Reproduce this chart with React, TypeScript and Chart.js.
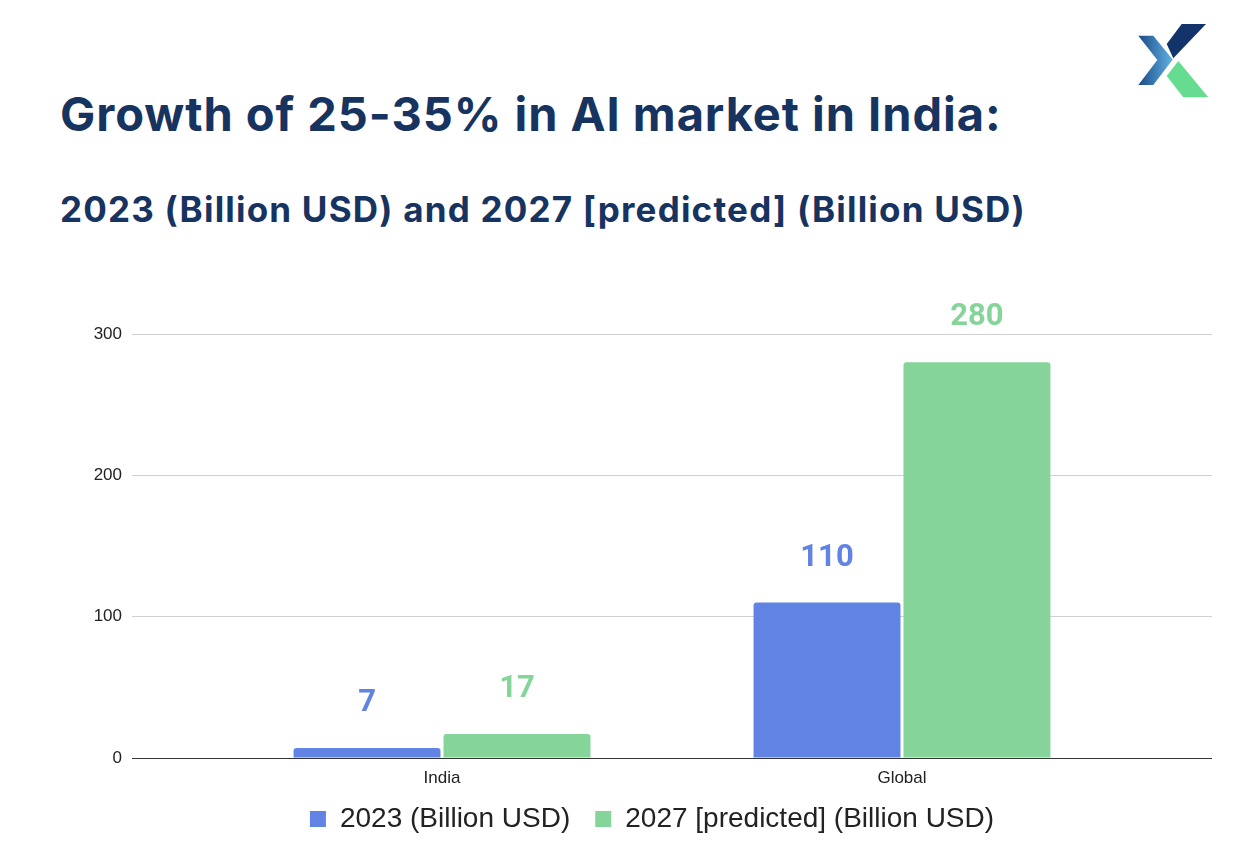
import React, { useEffect, useRef } from 'react';
import { Chart, registerables } from 'chart.js';

Chart.register(...registerables);

const categories = ['India', 'Global'];
const series2023 = [7, 110];
const series2027 = [17, 280];
const seriesNames = ['2023 (Billion USD)', '2027 [predicted] (Billion USD)'];
const yTicks = [0, 100, 200, 300];
const titleText = 'Growth of 25-35% in AI market in India:';
const subtitleText = '2023 (Billion USD) and 2027 [predicted] (Billion USD)';

const BLUE = '#6183E3';
const GREEN = '#85D59A';
const NAVY = '#17335F';
const SANS = '"Liberation Sans", Arial, Helvetica, sans-serif';

const valueLabels = {
  id: 'valueLabels',
  afterDatasetsDraw(chart: any) {
    const ctx = chart.ctx;
    ctx.save();
    ctx.font = 'bold 31px Roboto';
    ctx.textAlign = 'center';
    ctx.textBaseline = 'alphabetic';
    chart.data.datasets.forEach((ds: any, di: number) => {
      const meta = chart.getDatasetMeta(di);
      ctx.fillStyle = ds.backgroundColor;
      meta.data.forEach((el: any, i: number) => {
        const v = ds.data[i].y;
        ctx.fillText(String(v), el.x, el.y - 37);
      });
    });
    ctx.restore();
  },
};

export default function App() {
  const canvasRef = useRef<HTMLCanvasElement | null>(null);

  useEffect(() => {
    const canvas = canvasRef.current;
    if (!canvas) return;
    const chart = new Chart(canvas, {
      type: 'bar',
      data: {
        datasets: [
          {
            label: seriesNames[0],
            data: categories.map((_, i) => ({ x: i, y: series2023[i] })),
            backgroundColor: BLUE,
            borderRadius: 3,
            categoryPercentage: 0.652,
            barPercentage: 0.98,
          },
          {
            label: seriesNames[1],
            data: categories.map((_, i) => ({ x: i, y: series2027[i] })),
            backgroundColor: GREEN,
            borderRadius: 3,
            categoryPercentage: 0.652,
            barPercentage: 0.98,
          },
        ],
      } as any,
      options: {
        animation: false,
        responsive: false,
        devicePixelRatio: 1,
        layout: { padding: { left: 92, right: 46, top: 84, bottom: 15 } },
        scales: {
          x: {
            type: 'linear',
            offset: false,
            min: -0.674,
            max: 1.674,
            afterBuildTicks: (s: any) => {
              s.ticks = categories.map((_, i) => ({ value: i }));
            },
            afterFit: (s: any) => {
              s.height = 22;
            },
            ticks: {
              callback: (v: any) => categories[v] ?? '',
              font: { family: SANS, size: 17 },
              color: '#222222',
              mirror: true,
              padding: -31,
              maxRotation: 0,
              autoSkip: false,
            },
            grid: { display: false, offset: false },
            border: { display: false },
          },
          y: {
            min: 0,
            max: 300,
            afterBuildTicks: (s: any) => {
              s.ticks = yTicks.map((v) => ({ value: v }));
            },
            afterFit: (s: any) => {
              s.width = 40;
            },
            ticks: {
              font: { family: SANS, size: 17 },
              color: '#222222',
              padding: 10,
            },
            grid: {
              color: (c: any) => (c.tick && c.tick.value === 0 ? '#333333' : '#d0d0d0'),
              drawTicks: false,
              lineWidth: 1,
            },
            border: { display: false },
          },
        },
        plugins: {
          legend: {
            position: 'bottom',
            labels: {
              boxWidth: 16,
              boxHeight: 16,
              padding: 25,
              font: { family: SANS, size: 28 },
              color: '#222222',
            },
          },
          tooltip: { enabled: false },
          title: { display: false },
        },
      } as any,
      plugins: [valueLabels],
    });
    return () => chart.destroy();
  }, []);

  return (
    <div
      style={{
        position: 'absolute',
        left: 0,
        top: 0,
        width: 1258,
        height: 858,
        background: '#ffffff',
        overflow: 'hidden',
      }}
    >
      <svg
        width={1258}
        height={120}
        style={{ position: 'absolute', left: 0, top: 0 }}
      >
        <defs>
          <linearGradient id="chev" x1="0" y1="0" x2="1" y2="0">
            <stop offset="0" stopColor="#1c4a86" />
            <stop offset="1" stopColor="#5fb3e6" />
          </linearGradient>
        </defs>
        <polygon points="1181.7,24 1206,24 1173.3,58.3 1166.7,44" fill="#13346a" />
        <polygon
          points="1138.3,35.7 1153.3,35.7 1172.7,59.5 1153.3,85 1138.3,85 1157.3,60"
          fill="url(#chev)"
        />
        <polygon points="1178.3,61 1166.7,76 1183.3,97.3 1208.3,97.3" fill="#66dc90" />
      </svg>
      <div
        style={{
          position: 'absolute',
          left: 60,
          top: 90,
          fontFamily: 'Inter, sans-serif',
          fontWeight: 700,
          fontSize: 47,
          lineHeight: '47px',
          letterSpacing: '0.95px',
          color: NAVY,
          whiteSpace: 'nowrap',
        }}
      >
        {titleText}
      </div>
      <div
        style={{
          position: 'absolute',
          left: 60,
          top: 192,
          fontFamily: 'Inter, sans-serif',
          fontWeight: 700,
          fontSize: 35,
          lineHeight: '35px',
          letterSpacing: '1.2px',
          color: NAVY,
          whiteSpace: 'nowrap',
        }}
      >
        {subtitleText}
      </div>
      <canvas
        ref={canvasRef}
        width={1258}
        height={608}
        style={{ position: 'absolute', left: 0, top: 250, width: 1258, height: 608 }}
      />
    </div>
  );
}
